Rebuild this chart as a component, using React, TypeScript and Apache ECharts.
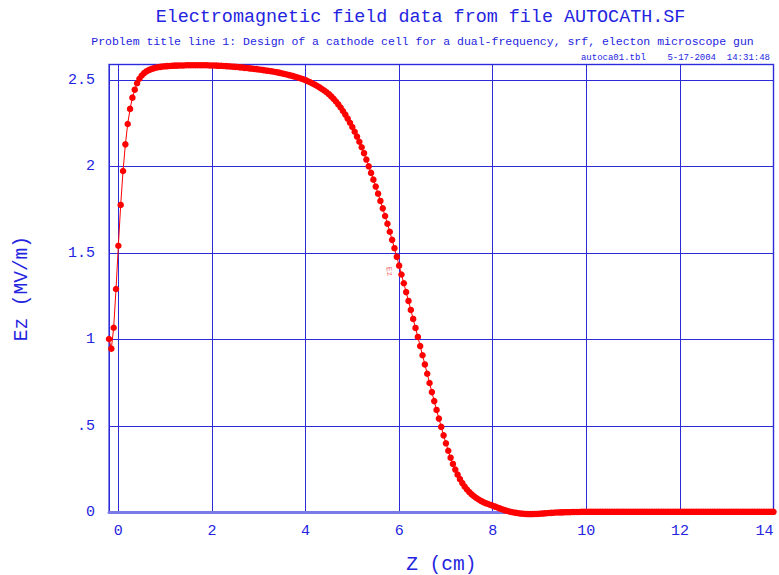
import React, { useEffect, useRef } from "react";
import * as echarts from "echarts";

// Axial mesh of the field table (cm)
const Z_FIRST = -0.2;
const Z_STEP = 0.05;

// On-axis Ez (MV/m) along the mesh, split by region
const EZ_RISE = [
  1.004, 0.948, 1.069, 1.293, 1.543, 1.779, 1.975, 2.129, 2.247, 2.334,
  2.399, 2.445, 2.482, 2.508, 2.527, 2.541, 2.551, 2.558, 2.564, 2.568,
  2.572, 2.575, 2.577, 2.579, 2.58, 2.581, 2.582, 2.583,
];

const EZ_PLATEAU = [
  2.584, 2.584, 2.585, 2.585, 2.585, 2.586, 2.586, 2.586, 2.586, 2.586,
  2.586, 2.586, 2.586, 2.586, 2.586, 2.585,
  2.585, 2.585, 2.584, 2.583, 2.583, 2.582, 2.581, 2.58, 2.579, 2.578,
  2.577, 2.576, 2.574, 2.573, 2.571, 2.57, 2.568, 2.567, 2.565, 2.564,
  2.562, 2.56, 2.558, 2.556, 2.554, 2.552, 2.55, 2.547, 2.545, 2.542,
  2.539, 2.536, 2.533, 2.529, 2.526, 2.522, 2.518, 2.514, 2.51, 2.505,
];

const EZ_FALLOFF = [
  2.5, 2.494, 2.488, 2.481, 2.474, 2.466, 2.458, 2.449, 2.44, 2.43,
  2.419, 2.406, 2.392, 2.377, 2.36, 2.342, 2.322, 2.301, 2.278, 2.254,
  2.229, 2.202, 2.174, 2.144, 2.112, 2.078, 2.041, 2.002, 1.964, 1.925,
  1.885, 1.844, 1.802, 1.759, 1.715, 1.67, 1.624, 1.577, 1.529, 1.479,
  1.428, 1.377, 1.326, 1.275, 1.224, 1.172, 1.12, 1.068, 1.016, 0.963,
  0.91, 0.857, 0.803, 0.75, 0.697, 0.645, 0.594, 0.544, 0.496, 0.447,
  0.401, 0.358, 0.318, 0.282, 0.249, 0.22, 0.194, 0.171, 0.151, 0.134,
  0.119, 0.106, 0.095, 0.085, 0.076, 0.068, 0.061, 0.055, 0.05, 0.045,
  0.04, 0.035, 0.03, 0.025, 0.02, 0.015, 0.011, 0.007, 0.004, 0.001,
];

const EZ_TAIL = [
  -0.001, -0.003, -0.005, -0.006, -0.007, -0.008, -0.008, -0.008, -0.007, -0.007,
  -0.006, -0.005, -0.004, -0.003, -0.002, -0.001, 0.0, 0.001, 0.001, 0.002,
  0.002, 0.003, 0.003, 0.003, 0.004, 0.004, 0.004, 0.004, 0.005, 0.005,
  0.005, 0.005, 0.005, 0.005, 0.005, 0.005, 0.005, 0.005, 0.005, 0.005,
  0.005, 0.005, 0.005, 0.005, 0.005, 0.005, 0.005, 0.005, 0.005, 0.005,
  0.005, 0.005, 0.005, 0.005, 0.005, 0.005, 0.005, 0.005, 0.005, 0.005,
  0.005, 0.005, 0.005, 0.005, 0.005, 0.005, 0.005, 0.005, 0.005, 0.005,
  0.005, 0.005, 0.005, 0.005, 0.005, 0.005, 0.005, 0.005, 0.005, 0.005,
  0.005, 0.005, 0.005, 0.005, 0.005, 0.005, 0.005, 0.005, 0.005, 0.005,
  0.005, 0.005, 0.005, 0.005, 0.005, 0.005, 0.005, 0.005, 0.005, 0.005,
  0.005, 0.005, 0.005, 0.005, 0.005, 0.005, 0.005, 0.005, 0.005, 0.005,
  0.005,
];

const TITLE = "Electromagnetic field data from file AUTOCATH.SF";
const SUBTITLE =
  "Problem title line 1: Design of a cathode cell for a dual-frequency, srf, electon microscope gun";
const STAMP = "autoca01.tbl    5-17-2004  14:31:48";

const FONT = '"Liberation Mono", "DejaVu Sans Mono", monospace';
const BLUE = "#2424e0";
const GRID_BLUE = "#2b2bd9";

export default function App() {
  const ref = useRef<HTMLDivElement>(null);

  useEffect(() => {
    if (!ref.current) return;
    const chart = echarts.init(ref.current, null, { renderer: "svg" });

    const ez = [...EZ_RISE, ...EZ_PLATEAU, ...EZ_FALLOFF, ...EZ_TAIL];
    const points = ez.map((v, i) => [
      Math.round((Z_FIRST + i * Z_STEP) * 1000) / 1000,
      v,
    ]);

    chart.setOption({
      animation: false,
      backgroundColor: "#ffffff",
      grid: {
        left: 109,
        right: 5.5,
        top: 64.6,
        bottom: 62.3,
        show: true,
        borderColor: "#5a5ae6",
        borderWidth: 1.5,
        outerBoundsMode: "none",
      },
      graphic: [
        {
          type: "text",
          x: 420.5,
          y: 17,
          style: {
            text: TITLE,
            fontFamily: FONT,
            fontSize: 18.4,
            fill: BLUE,
            align: "center",
            verticalAlign: "middle",
          },
        },
        {
          type: "text",
          x: 422.5,
          y: 41,
          style: {
            text: SUBTITLE,
            fontFamily: FONT,
            fontSize: 11.5,
            fill: BLUE,
            align: "center",
            verticalAlign: "middle",
          },
        },
        {
          type: "text",
          x: 770,
          y: 58,
          style: {
            text: STAMP,
            fontFamily: FONT,
            fontSize: 9,
            fill: BLUE,
            align: "right",
            verticalAlign: "middle",
          },
        },
      ],
      xAxis: {
        type: "value",
        min: -0.2,
        max: 14,
        splitNumber: 7,
        name: "Z (cm)",
        nameLocation: "middle",
        nameGap: 42,
        nameTextStyle: { fontFamily: FONT, fontSize: 19.5, color: BLUE },
        axisLine: {
          show: true,
          onZero: false,
          lineStyle: { color: "#7a7ae8", width: 3 },
        },
        axisTick: { show: false },
        axisLabel: {
          fontFamily: FONT,
          fontSize: 15,
          color: BLUE,
          margin: 11,
          showMinLabel: false,
          alignMaxLabel: "right",
          formatter: (v: number) => (Math.abs(v % 2) < 1e-9 ? String(v) : ""),
        },
        splitLine: { show: true, lineStyle: { color: GRID_BLUE, width: 1 } },
      },
      yAxis: {
        type: "value",
        min: 0,
        max: 2.59,
        splitNumber: 5,
        name: "Ez (MV/m)",
        nameLocation: "middle",
        nameGap: 77,
        nameTextStyle: { fontFamily: FONT, fontSize: 19.5, color: BLUE },
        axisLine: { show: false },
        axisTick: { show: false },
        axisLabel: {
          fontFamily: FONT,
          fontSize: 15,
          color: BLUE,
          margin: 14,
          showMaxLabel: false,
          formatter: (v: number) => (v === 0.5 ? ".5" : String(v)),
        },
        splitLine: { show: true, lineStyle: { color: GRID_BLUE, width: 1 } },
      },
      series: [
        {
          type: "line",
          data: points,
          symbol: "circle",
          symbolSize: 6.5,
          showSymbol: true,
          showAllSymbol: true,
          clip: false,
          silent: true,
          lineStyle: { color: "#ff0000", width: 1 },
          itemStyle: { color: "#ff0000" },
          z: 5,
          markPoint: {
            symbol: "circle",
            symbolSize: 0,
            silent: true,
            data: [
              {
                coord: [5.795, 1.394],
                symbolSize: 0,
                label: {
                  show: true,
                  formatter: "Ez",
                  position: "inside",
                  rotate: -80,
                  fontFamily: FONT,
                  fontSize: 8,
                  color: "#f06a6a",
                },
              },
            ],
          },
        },
      ],
    });

    return () => chart.dispose();
  }, []);

  return (
    <div
      ref={ref}
      style={{
        position: "fixed",
        left: 0,
        top: 0,
        width: 779,
        height: 575,
        background: "#ffffff",
      }}
    />
  );
}
